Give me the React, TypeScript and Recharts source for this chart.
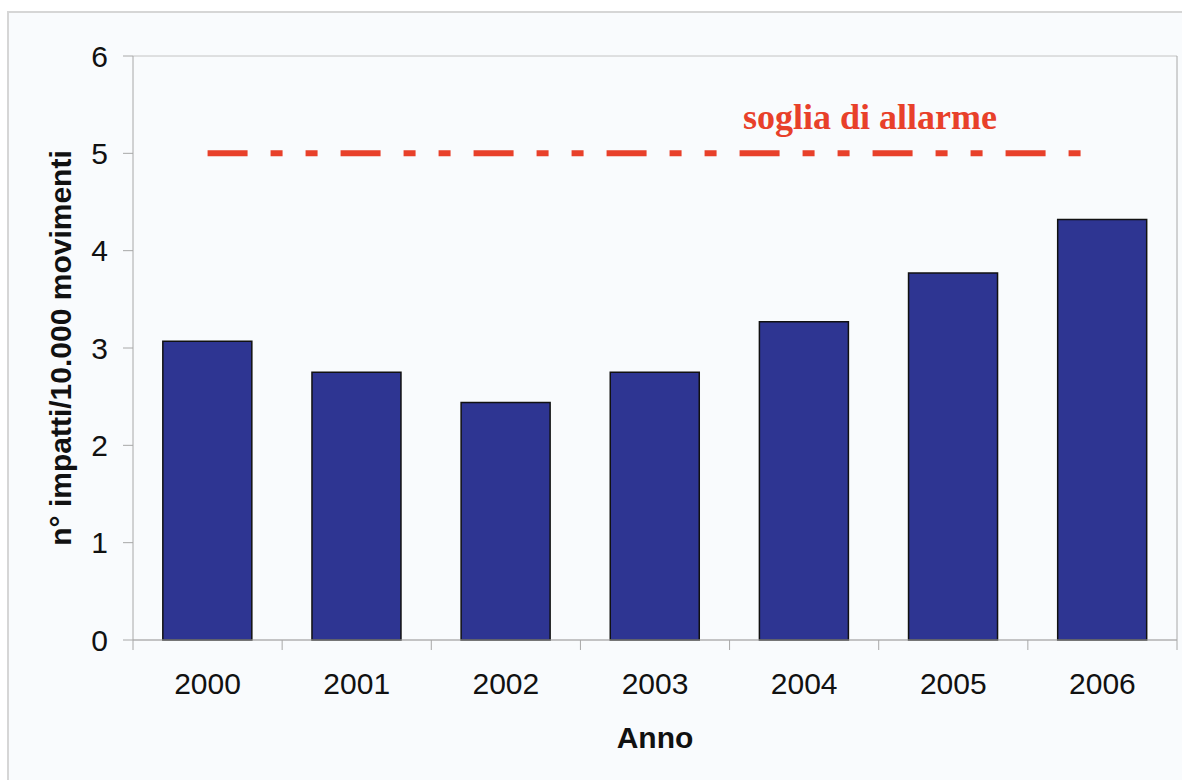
import React from 'react';
import { ComposedChart, Bar, Line, XAxis, YAxis, CartesianGrid, ReferenceLine, Label } from 'recharts';

const years = ['2000', '2001', '2002', '2003', '2004', '2005', '2006'];
const impacts = [3.07, 2.75, 2.44, 2.75, 3.27, 3.77, 4.32];
const threshold = [5, 5, 5, 5, 5, 5, 5];
const yTicks = [0, 1, 2, 3, 4, 5, 6];

const data = years.map((y, i) => ({ year: y, impacts: impacts[i], threshold: threshold[i] }));

const RED = '#e8402a';
const AXIS = '#a8a8a8';
const SANS = '"Liberation Sans", Arial, sans-serif';

const XTick = (props: any) => {
  const { x, y, payload, index, visibleTicksCount } = props;
  const half = payload && payload.offset ? payload.offset : 0;
  const last = index === (visibleTicksCount ?? years.length) - 1;
  return (
    <g>
      <line x1={x - half} x2={x - half} y1={y} y2={y + 10} stroke={AXIS} strokeWidth={1} />
      {last && <line x1={x + half} x2={x + half} y1={y} y2={y + 10} stroke={AXIS} strokeWidth={1} />}
      <text x={x} y={y + 54} textAnchor="middle" fontSize={30} fontFamily={SANS} fill="#111">
        {payload.value}
      </text>
    </g>
  );
};

export default function App() {
  return (
    <div style={{ position: 'absolute', left: 0, top: 0, width: 1182, height: 780, overflow: 'hidden', background: '#ffffff' }}>
      <div
        style={{
          position: 'absolute',
          left: 7,
          top: 11,
          width: 1200,
          height: 800,
          borderLeft: '2px solid #d6d6d6',
          borderTop: '2px solid #d6d6d6',
          background: '#f9fbfd',
        }}
      />
      <div style={{ position: 'absolute', left: 0, top: 0 }}>
        <ComposedChart
          width={1182}
          height={780}
          data={data}
          margin={{ top: 56, right: 0, bottom: 0, left: 0 }}
          barCategoryGap="20%"
        >
          <CartesianGrid horizontal vertical={false} stroke="#c4c4c4" strokeWidth={1} />
          <XAxis
            dataKey="year"
            height={140}
            tickLine={false}
            tickSize={0}
            tickMargin={0}
            axisLine={{ stroke: AXIS, strokeWidth: 1 }}
            tick={<XTick />}
            interval={0}
          >
            <Label
              content={(p: any) => {
                const vb = p.viewBox || {};
                return (
                  <text
                    x={vb.x + vb.width / 2}
                    y={vb.y + 108}
                    textAnchor="middle"
                    fontSize={30}
                    fontWeight="bold"
                    fontFamily={SANS}
                    fill="#111"
                  >
                    Anno
                  </text>
                );
              }}
            />
          </XAxis>
          <YAxis
            yAxisId="left"
            width={133}
            domain={[0, 6]}
            ticks={yTicks}
            interval={0}
            tickSize={10}
            tickMargin={15}
            tickLine={{ stroke: AXIS }}
            axisLine={{ stroke: AXIS, strokeWidth: 1 }}
            tick={{ fontSize: 30, fontFamily: SANS, fill: '#111' }}
          >
            <Label
              content={(p: any) => {
                const vb = p.viewBox || {};
                const cx = 60;
                const cy = vb.y + vb.height / 2;
                return (
                  <text
                    x={cx}
                    y={cy}
                    transform={`rotate(-90 ${cx} ${cy})`}
                    textAnchor="middle"
                    dominantBaseline="central"
                    fontSize={30}
                    fontWeight="bold"
                    fontFamily={SANS}
                    fill="#111"
                  >
                    n° impatti/10.000 movimenti
                  </text>
                );
              }}
            />
          </YAxis>
          <YAxis
            yAxisId="right"
            orientation="right"
            width={5}
            domain={[0, 6]}
            tick={false}
            tickLine={false}
            axisLine={{ stroke: AXIS, strokeWidth: 1 }}
          />
          <Bar
            yAxisId="left"
            dataKey="impacts"
            fill="#2e3592"
            stroke="#111"
            strokeWidth={1.5}
            isAnimationActive={false}
          />
          <Line
            yAxisId="left"
            dataKey="threshold"
            stroke={RED}
            strokeWidth={6}
            strokeDasharray="40 23 12 23 12 23"
            strokeLinecap="butt"
            dot={false}
            activeDot={false}
            isAnimationActive={false}
          />
          <ReferenceLine
            yAxisId="left"
            y={5}
            stroke="none"
            label={(p: any) => {
              const vb = p.viewBox || {};
              return (
                <text
                  x={vb.x + vb.width * 0.706}
                  y={vb.y - 24}
                  textAnchor="middle"
                  fontSize={36}
                  fontWeight="bold"
                  fontFamily='"Liberation Serif", "Times New Roman", serif'
                  fill={RED}
                >
                  soglia di allarme
                </text>
              );
            }}
          />
        </ComposedChart>
      </div>
    </div>
  );
}
